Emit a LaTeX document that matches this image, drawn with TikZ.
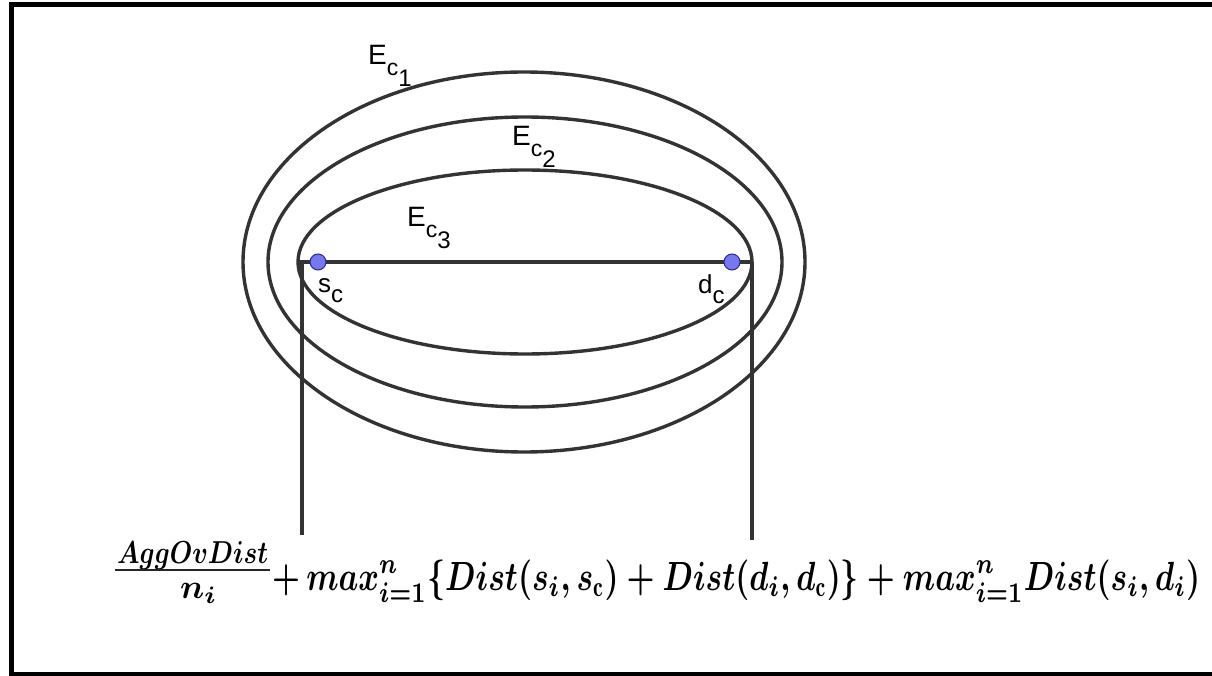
\documentclass[tikz,border=0pt]{standalone}
\usepackage{amsmath}
\usepackage{fontspec}
\newfontfamily\labfont{Liberation Sans}
\definecolor{linec}{HTML}{333333}
\definecolor{dotfill}{HTML}{7777EE}
\definecolor{dotdraw}{HTML}{2A2A8C}
\newcommand\Elab[1]{{\labfont\fontsize{28}{28}\selectfont E}{\labfont\fontsize{23}{23}\selectfont\raisebox{-11pt}{c}}{\labfont\fontsize{24}{24}\selectfont\raisebox{-22pt}{#1}}}
\newcommand\Plab[1]{{\labfont\fontsize{26}{26}\selectfont #1}{\labfont\fontsize{24}{24}\selectfont\raisebox{-10pt}{c}}}
\tikzset{
  curve/.style={draw=linec, line width=3.4pt},
  seg/.style={draw=linec, line width=3.2pt},
  pt/.style={circle, fill=dotfill, draw=dotdraw, line width=1pt, minimum size=16pt, inner sep=0pt},
  lab/.style={anchor=base west, inner sep=0pt},
  mathlab/.style={anchor=base west, inner sep=0pt}
}
\begin{document}
\begin{tikzpicture}[x=1pt,y=-1pt]
\useasboundingbox (0,0) rectangle (1212,676);
\fill[white] (0,0) rectangle (1212,676);
% frame
\draw[line width=5pt, black] (1220,4.5) -- (11,4.5) -- (11,674) -- (1220,674);
% ellipses
\draw[curve] (524,262) ellipse [x radius=281pt, y radius=190pt];
\draw[curve] (525,262) ellipse [x radius=257pt, y radius=145pt];
\draw[curve] (525,262) ellipse [x radius=227pt, y radius=92pt];
% segment and verticals
\coordinate (L) at (297,262);
\coordinate (R) at (753,262);
\coordinate (Lt) at (302,262);
\coordinate (Rt) at (752,262);
\coordinate (Lb) at (302,535);
\coordinate (Rb) at (752,540);
\draw[seg] (L) -- (R);
\draw[seg] (Lt) -- (Lb);
\draw[seg] (Rt) -- (Rb);
% points
\node[pt] (sc) at (318,262) {};
\node[pt] (dc) at (732,262) {};
% labels
\node[lab] (e1) at (368,65) {\Elab{1}};
\node[lab] (e2) at (512,146) {\Elab{2}};
\node[lab] (e3) at (407,227) {\Elab{3}};
\node[lab] (sl) at (318,292) {\Plab{s}};
\node[lab] (dl) at (698,293) {\Plab{d}};
% formula: fraction
\node[mathlab] (num) at (117,563) {\resizebox{151pt}{22pt}{$\boldsymbol{AggOvDist}$}};
\coordinate (barL) at (115,570);
\coordinate (barR) at (270,570);
\draw[line width=2.4pt, black!85] (barL) -- (barR);
\node[mathlab] (den) at (180,598) {\scalebox{3.4}{$\boldsymbol{n_i}$}};
% formula: rest
\node[mathlab] (rest) at (272,590) {\scalebox{1}[1.3]{\resizebox{928pt}{!}{$\displaystyle\boldsymbol{+\,max_{i=1}^{n}\{Dist(s_i,s_{\mathrm{c}})+Dist(d_i,d_{\mathrm{c}})\}+max_{i=1}^{n}Dist(s_i,d_i)}$}}};
\end{tikzpicture}
\end{document}
